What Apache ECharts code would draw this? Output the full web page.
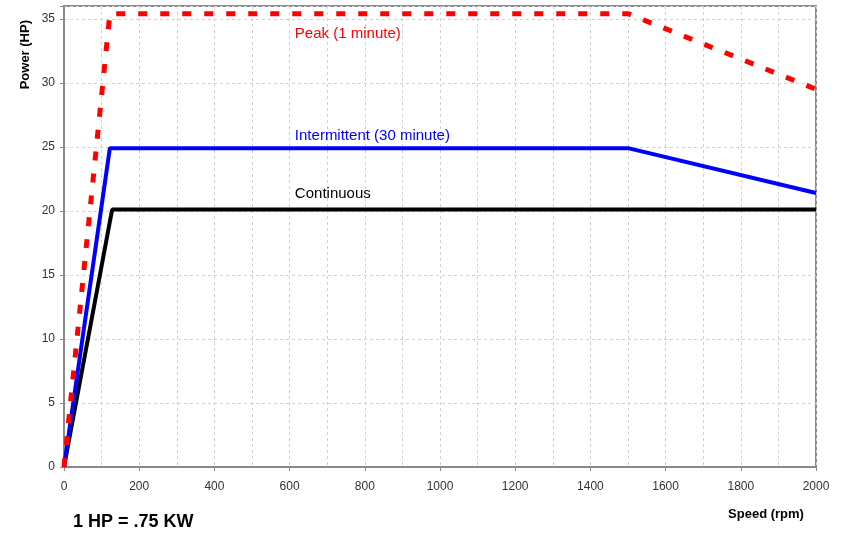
<!DOCTYPE html>
<html>
<head>
<meta charset="utf-8">
<script src="https://cdn.jsdelivr.net/npm/echarts@6/dist/echarts.min.js"></script>
<style>html,body{margin:0;padding:0;background:#fff}#c{width:846px;height:537px}</style>
</head>
<body>
<div id="c"></div>
<script>
var xTicks = [0, 200, 400, 600, 800, 1000, 1200, 1400, 1600, 1800, 2000];
var yTicks = [0, 5, 10, 15, 20, 25, 30, 35];
var peakData = [[0, 0], [122, 35.4], [1500, 35.4], [2000, 29.5]];
var intermittentData = [[0, 0], [122, 24.9], [1500, 24.9], [2000, 21.4]];
var continuousData = [[0, 0], [128, 20.1], [2000, 20.1]];
var seriesNames = ['Peak (1 minute)', 'Intermittent (30 minute)', 'Continuous'];
var labelPos = [[614, 33.84], [614, 25.84], [614, 21.3]];

var chart = echarts.init(document.getElementById('c'), null, {renderer: 'canvas'});
var font = 'Liberation Sans, Arial, sans-serif';
function labelMark(name, pos, color) {
  return {
    symbol: 'circle', symbolSize: 0, silent: true,
    label: {show: true, position: 'right', distance: 0, formatter: name, color: color, fontSize: 15, fontFamily: font},
    data: [{coord: pos}]
  };
}
chart.setOption({
  animation: false,
  grid: {left: 64, right: 30, top: 6, bottom: 70, show: true, borderColor: '#8a8a8a', borderWidth: 2, backgroundColor: 'transparent'},
  xAxis: {
    type: 'value', min: xTicks[0], max: xTicks[xTicks.length - 1], interval: 200,
    name: 'Speed (rpm)', nameLocation: 'end', nameGap: 0,
    nameTextStyle: {fontWeight: 'bold', fontSize: 13, color: '#000', fontFamily: font, align: 'center', verticalAlign: 'top', padding: [41, 100, 0, 0]},
    axisLine: {lineStyle: {color: '#8a8a8a', width: 2}},
    axisTick: {show: true, length: 4, lineStyle: {color: '#8a8a8a'}},
    axisLabel: {fontSize: 12, color: '#333', fontFamily: font, margin: 14,
      formatter: function (v) { return String(v); }},
    splitLine: {show: true, lineStyle: {color: '#d0d0d0', type: [3, 3]}},
    minorTick: {show: false, splitNumber: 2},
    minorSplitLine: {show: true, lineStyle: {color: '#d0d0d0', type: [3, 3]}}
  },
  yAxis: {
    type: 'value', min: 0, max: 36, interval: 5,
    name: 'Power (HP)', nameLocation: 'end', nameRotate: 90, nameGap: -14,
    nameTextStyle: {fontWeight: 'bold', fontSize: 13, color: '#000', fontFamily: font, align: 'right', verticalAlign: 'bottom', padding: [0, 0, 32, 0]},
    axisLine: {show: true, lineStyle: {color: '#8a8a8a', width: 2}},
    axisTick: {show: true, length: 4, lineStyle: {color: '#8a8a8a'}},
    axisLabel: {fontSize: 12, color: '#333', fontFamily: font, margin: 9,
      formatter: function (v) { return yTicks.indexOf(v) >= 0 ? String(v) : ''; }},
    splitLine: {show: true, lineStyle: {color: '#d0d0d0', type: [3, 3]}}
  },
  graphic: [{
    type: 'text', left: 73, top: 513,
    style: {text: '1 HP = .75 KW', font: 'bold 18px ' + font, fill: '#000'}
  }],
  series: [
    {name: seriesNames[2], type: 'line', data: continuousData, symbol: 'none', z: 3,
     lineStyle: {color: '#000', width: 4}, markPoint: labelMark(seriesNames[2], labelPos[2], '#000')},
    {name: seriesNames[1], type: 'line', data: intermittentData, symbol: 'none', z: 4,
     lineStyle: {color: '#0000ff', width: 4}, markPoint: labelMark(seriesNames[1], labelPos[1], '#0000ff')},
    {name: seriesNames[0], type: 'line', data: peakData, symbol: 'none', z: 5,
     lineStyle: {color: '#ff0000', width: 5, type: [9, 13]}, markPoint: labelMark(seriesNames[0], labelPos[0], '#ff0000')}
  ]
});
</script>
</body>
</html>
